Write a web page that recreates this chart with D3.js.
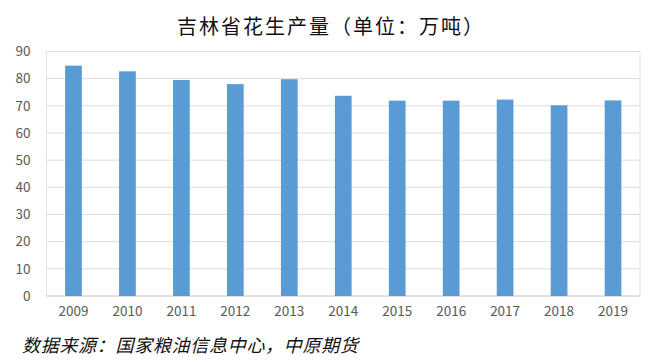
<!DOCTYPE html>
<html>
<head>
<meta charset="utf-8">
<script src="https://cdn.jsdelivr.net/npm/d3@7"></script>
<style>
  body { margin: 0; background: #fff; }
  svg { display: block; }
</style>
</head>
<body>
<svg id="chart" width="668" height="363"></svg>
<script>
const years = ["2009", "2010", "2011", "2012", "2013", "2014", "2015", "2016", "2017", "2018", "2019"];
const output = [84.8, 82.7, 79.5, 78.0, 79.8, 73.7, 71.9, 71.9, 72.3, 70.2, 72.0];
const yTicks = [0, 10, 20, 30, 40, 50, 60, 70, 80, 90];

const title = "吉林省花生产量（单位：万吨）";
const source = "数据来源：国家粮油信息中心，中原期货";

const width = 668, height = 363;
const margin = { top: 51.5, right: 28, bottom: 67, left: 46.5 };
const cjk = '"Noto Sans CJK SC", "Noto Sans", sans-serif';

const svg = d3.select("#chart");

const x = d3.scaleBand()
  .domain(years)
  .range([margin.left, width - margin.right])
  .paddingInner(0.69)
  .paddingOuter(0.345);

const y = d3.scaleLinear()
  .domain([0, 90])
  .range([height - margin.bottom, margin.top]);

// plot frame
svg.append("rect")
  .attr("x", margin.left)
  .attr("y", margin.top)
  .attr("width", width - margin.left - margin.right)
  .attr("height", height - margin.top - margin.bottom)
  .attr("fill", "none")
  .attr("stroke", "#e3e3e3");

// gridlines
svg.append("g")
  .selectAll("line")
  .data(yTicks)
  .enter()
  .append("line")
  .attr("x1", margin.left)
  .attr("x2", width - margin.right)
  .attr("y1", d => y(d))
  .attr("y2", d => y(d))
  .attr("stroke", d => d === 0 ? "#d0d0d0" : "#dcdcdc")
  .attr("stroke-width", 1);

// bars
svg.append("g")
  .selectAll("rect")
  .data(output)
  .enter()
  .append("rect")
  .attr("x", (d, i) => x(years[i]))
  .attr("y", d => y(d))
  .attr("width", x.bandwidth())
  .attr("height", d => y(0) - y(d))
  .attr("fill", "#5b9bd5");

// y axis labels
const yAxis = svg.append("g")
  .attr("transform", `translate(${margin.left}, 0)`)
  .call(d3.axisLeft(y).tickValues(yTicks).tickSize(0).tickPadding(16));
yAxis.select(".domain").remove();
yAxis.selectAll("text")
  .attr("fill", "#595959")
  .attr("font-size", "13.5px")
  .attr("font-family", cjk);

// x axis labels
const xAxis = svg.append("g")
  .attr("transform", `translate(0, ${height - margin.bottom})`)
  .call(d3.axisBottom(x).tickSize(0).tickPadding(10));
xAxis.select(".domain").remove();
xAxis.selectAll("text")
  .attr("fill", "#595959")
  .attr("font-size", "13.5px")
  .attr("font-family", cjk);

// title
svg.append("text")
  .text(title)
  .attr("x", 331)
  .attr("y", 34)
  .attr("text-anchor", "middle")
  .attr("fill", "#111")
  .attr("font-size", "20px")
  .attr("letter-spacing", "2px")
  .attr("font-family", cjk);

// source note
svg.append("text")
  .text(source)
  .attr("x", 22)
  .attr("y", 352)
  .attr("fill", "#111")
  .attr("font-size", "18px")
  .attr("letter-spacing", "0.7px")
  .attr("font-style", "italic")
  .attr("font-family", cjk);
</script>
</body>
</html>
